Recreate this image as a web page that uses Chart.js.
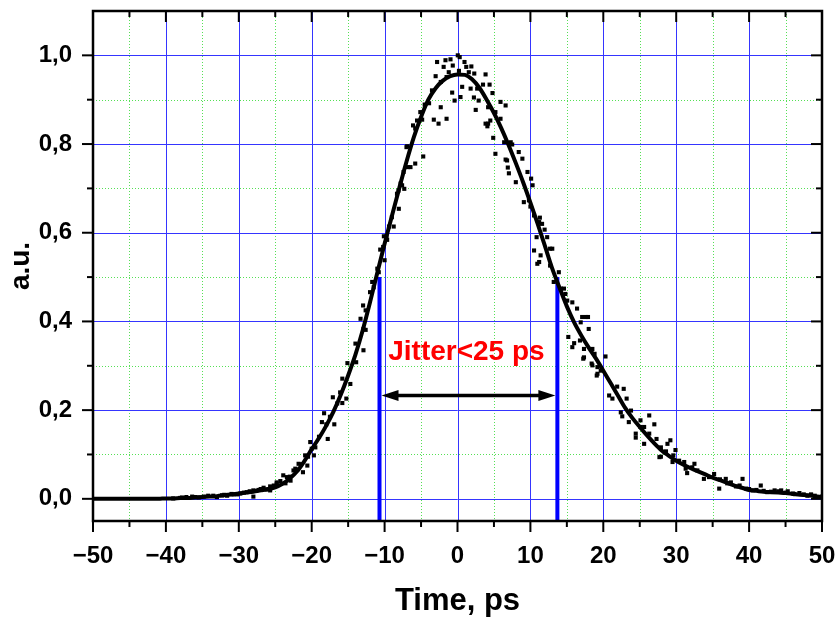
<!DOCTYPE html>
<html><head><meta charset="utf-8">
<script src="https://cdn.jsdelivr.net/npm/chart.js@4.4.1/dist/chart.umd.min.js"></script>
<style>html,body{margin:0;padding:0;background:#fff;}#wrap{width:838px;height:622px;}</style>
</head><body><div id="wrap"><canvas id="c" width="838" height="622"></canvas></div>
<script>
// ---- data ----
const fitX = [-50,-49,-48,-47,-46,-45,-44,-43,-42,-41,-40,-39,-38,-37,-36,-35,-34,-33,-32,-31,-30,-29,-28,-27,-26,-25,-24,-23,-22,-21,-20,-19,-18,-17,-16,-15,-14,-13,-12,-11,-10,-9,-8,-7,-6,-5,-4,-3,-2,-1,0,1,2,3,4,5,6,7,8,9,10,11,12,13,14,15,16,17,18,19,20,21,22,23,24,25,26,27,28,29,30,31,32,33,34,35,36,37,38,39,40,41,42,43,44,45,46,47,48,49,50];
const fitY = [0,0,0,0,0,0,0,0,0,0,
  0.001,0.001,0.002,0.002,0.003,0.004,0.005,0.006,0.008,0.010,
  0.012,0.014,0.016,0.019,0.022,0.026,0.034,0.046,0.062,0.085,
  0.112,0.137,0.165,0.197,0.235,0.278,0.325,0.380,0.443,0.510,
  0.575,0.638,0.700,0.760,0.815,0.861,0.900,0.926,0.943,0.953,
  0.957,0.956,0.946,0.927,0.900,0.870,0.836,0.798,0.757,0.714,
  0.668,0.620,0.570,0.519,0.476,0.434,0.398,0.368,0.341,0.316,
  0.289,0.261,0.233,0.205,0.182,0.162,0.143,0.125,0.109,0.097,
  0.086,0.077,0.069,0.062,0.055,0.048,0.042,0.036,0.030,0.025,
  0.020,0.018,0.016,0.015,0.014,0.013,0.011,0.009,0.008,0.006,0.004];

const dotX = [-39.0,-38.05,-37.8,-37.2,-36.4,-36.0,-35.5,-34.8,-34.2,-33.5,-33.0,-32.3,-32.0,-31.6,-31.0,-30.7,-30.2,-29.8,-29.3,-28.9,-28.5,-28.0,-28.0,-27.6,-27.3,-27.0,-26.6,-26.2,-25.7,-25.7,-25.7,-25.2,-24.8,-24.8,-24.3,-23.9,-23.6,-23.4,-23.0,-22.9,-22.5,-22.25,-22.0,-21.8,-21.5,-21.2,-20.9,-20.6,-20.5,-20.2,-20.0,-19.7,-19.5,-19.0,-18.6,-18.3,-18.0,-17.8,-17.5,-17.1,-16.9,-16.5,-16.1,-15.8,-15.8,-15.25,-15.1,-14.7,-14.0,-13.9,-13.3,-12.95,-12.9,-12.9,-12.6,-12.6,-12.0,-11.7,-11.5,-11.0,-10.8,-10.6,-10.2,-10.1,-10.0,-9.75,-9.65,-9.4,-9.0,-8.75,-8.3,-8.1,-8.05,-7.8,-7.6,-7.4,-7.3,-7.0,-6.9,-6.8,-6.45,-6.1,-5.8,-5.8,-5.55,-5.1,-4.85,-4.7,-4.5,-3.9,-3.5,-3.25,-3.0,-2.8,-2.6,-2.3,-2.3,-1.9,-1.65,-1.5,-1.5,-1.2,-0.96,-0.73,-0.65,-0.4,0.04,0.2,0.3,0.41,0.64,0.96,1.2,1.55,1.8,1.9,2.25,2.3,2.5,2.7,2.9,3.5,3.85,3.85,4.1,4.2,4.2,4.4,4.5,4.8,4.9,5.2,5.2,5.9,5.9,6.4,6.6,6.6,6.8,6.9,7.05,7.3,7.5,8.0,8.4,8.9,9.1,9.6,9.8,10.0,10.1,10.3,10.5,10.5,10.85,10.95,11.2,11.2,11.3,11.4,11.6,11.95,12.3,12.7,12.7,13.0,13.2,13.9,14.2,14.6,14.8,15.05,15.2,15.75,15.75,16.0,16.4,16.8,16.9,17.1,17.25,17.35,17.35,17.6,17.9,18.0,18.4,18.5,18.5,18.8,19.1,19.2,19.2,19.65,20.3,20.8,21.25,21.9,22.4,22.6,22.8,23.2,23.5,23.8,24.45,24.45,25.1,25.1,25.6,25.6,26.3,26.3,27.0,27.3,27.7,27.9,27.9,28.6,28.8,29.2,29.5,29.6,29.9,30.4,31.1,31.3,31.5,32.2,32.5,32.9,33.8,34.5,35.2,35.9,36.0,36.8,37.0,37.5,38.2,38.7,39.1,39.6,40.0,40.5,41.0,41.6,42.0,42.5,43.0,43.5,44.0,44.4,45.0,45.3,46.0,46.2,46.9,47.5,48.0,48.5,49.0,49.4,50.0];
const dotY = [0.001,0.002,0.003,0.004,0.005,0.004,0.003,0.005,0.007,0.007,0.004,0.008,0.009,0.007,0.011,0.010,0.010,0.012,0.014,0.015,0.017,0.005,0.019,0.018,0.020,0.022,0.025,0.021,0.023,0.028,0.019,0.030,0.037,0.034,0.040,0.053,0.035,0.049,0.050,0.041,0.064,0.068,0.066,0.079,0.078,0.060,0.098,0.075,0.095,0.128,0.113,0.098,0.116,0.140,0.173,0.193,0.168,0.135,0.185,0.229,0.168,0.215,0.240,0.271,0.216,0.226,0.306,0.259,0.350,0.308,0.406,0.436,0.335,0.383,0.425,0.381,0.466,0.489,0.477,0.519,0.511,0.562,0.568,0.592,0.538,0.592,0.584,0.614,0.635,0.614,0.688,0.695,0.654,0.711,0.707,0.737,0.699,0.793,0.795,0.748,0.748,0.842,0.835,0.756,0.853,0.872,0.855,0.772,0.889,0.892,0.921,0.855,0.953,0.985,0.846,0.940,0.883,0.974,0.989,0.951,0.857,0.962,0.991,0.916,0.977,0.898,1.000,0.965,0.996,0.906,0.929,0.985,0.974,0.962,0.925,0.975,0.905,0.959,0.877,0.925,0.898,0.934,0.957,0.846,0.840,0.883,0.846,0.934,0.853,0.915,0.814,0.872,0.778,0.895,0.857,0.804,0.887,0.765,0.763,0.747,0.734,0.804,0.799,0.714,0.782,0.767,0.669,0.737,0.673,0.659,0.722,0.707,0.639,0.560,0.590,0.530,0.624,0.534,0.634,0.549,0.620,0.607,0.590,0.564,0.526,0.564,0.489,0.511,0.474,0.474,0.462,0.447,0.365,0.443,0.342,0.351,0.429,0.357,0.398,0.410,0.316,0.338,0.319,0.410,0.410,0.383,0.305,0.338,0.301,0.327,0.278,0.297,0.282,0.289,0.321,0.233,0.226,0.253,0.195,0.186,0.248,0.226,0.173,0.199,0.147,0.138,0.162,0.177,0.162,0.124,0.188,0.147,0.168,0.135,0.094,0.116,0.095,0.107,0.124,0.132,0.083,0.098,0.110,0.086,0.083,0.068,0.058,0.071,0.079,0.064,0.045,0.049,0.056,0.023,0.044,0.045,0.035,0.037,0.028,0.030,0.045,0.023,0.022,0.019,0.020,0.030,0.018,0.015,0.016,0.019,0.017,0.019,0.014,0.017,0.012,0.011,0.013,0.010,0.007,0.010,0.007,0.004,0.005];

const xTicks = [-50,-40,-30,-20,-10,0,10,20,30,40,50];
const xMinor = [-45,-35,-25,-15,-5,5,15,25,35,45];
const yTicks = [0,0.2,0.4,0.6,0.8,1.0];
const yMinor = [0.1,0.3,0.5,0.7,0.9];
const xRange = [-50,50];
const yRange = [-0.05,1.1];
const jitterX = [-10.7,13.7];
const jitterTop = 0.5;
const arrowY = 0.233;
const labelY = 0.331;
const labelText = 'Jitter<25 ps';
const xTitle = 'Time, ps';
const yTitle = 'a.u.';

// ---- chart ----
const FAM = "'Liberation Sans', Arial, sans-serif";
Chart.defaults.font.family = FAM;
const fmtY = v => (v < 0 ? '\u2212' : '') + Math.abs(v).toFixed(1).replace('.', ',');
const fmtX = v => (v < 0 ? '\u2212' : '') + Math.abs(v);

const gridPlugin = {
  id: 'gridFrame',
  beforeDatasetsDraw(chart) {
    const {ctx, chartArea: a, scales: {x, y}} = chart;
    ctx.save();
    ctx.lineWidth = 1;
    ctx.strokeStyle = '#55e055';
    ctx.setLineDash([1, 2]);
    xMinor.forEach(v => { const p = Math.round(x.getPixelForValue(v)) + 0.5; ctx.beginPath(); ctx.moveTo(p, a.top); ctx.lineTo(p, a.bottom); ctx.stroke(); });
    yMinor.forEach(v => { const p = Math.round(y.getPixelForValue(v)) + 0.5; ctx.beginPath(); ctx.moveTo(a.left, p); ctx.lineTo(a.right, p); ctx.stroke(); });
    ctx.setLineDash([]);
    ctx.strokeStyle = '#3535ff';
    xTicks.forEach(v => { if (v <= xRange[0] || v >= xRange[1]) return; const p = Math.round(x.getPixelForValue(v)) + 0.5; ctx.beginPath(); ctx.moveTo(p, a.top); ctx.lineTo(p, a.bottom); ctx.stroke(); });
    yTicks.forEach(v => { const p = Math.round(y.getPixelForValue(v)) + 0.5; ctx.beginPath(); ctx.moveTo(a.left, p); ctx.lineTo(a.right, p); ctx.stroke(); });
    ctx.restore();
  },
  afterDatasetsDraw(chart) {
    const {ctx, chartArea: a, scales: {x, y}} = chart;
    ctx.save();
    // arrow
    const x1 = x.getPixelForValue(jitterX[0]) + 2, x2 = x.getPixelForValue(jitterX[1]) - 2;
    const ay = y.getPixelForValue(arrowY);
    const hl = 17, hw = 5.5;
    ctx.strokeStyle = '#000'; ctx.fillStyle = '#000'; ctx.lineWidth = 3.5;
    ctx.beginPath(); ctx.moveTo(x1 + hl - 2, ay); ctx.lineTo(x2 - hl + 2, ay); ctx.stroke();
    ctx.beginPath(); ctx.moveTo(x1, ay); ctx.lineTo(x1 + hl, ay - hw); ctx.lineTo(x1 + hl, ay + hw); ctx.closePath(); ctx.fill();
    ctx.beginPath(); ctx.moveTo(x2, ay); ctx.lineTo(x2 - hl, ay - hw); ctx.lineTo(x2 - hl, ay + hw); ctx.closePath(); ctx.fill();
    // label
    ctx.font = 'bold 28px ' + FAM;
    ctx.fillStyle = '#ff0000'; ctx.textAlign = 'center'; ctx.textBaseline = 'middle';
    ctx.fillText(labelText, x.getPixelForValue((jitterX[0] + jitterX[1]) / 2) - 2, y.getPixelForValue(labelY));
    // frame
    ctx.strokeStyle = '#000'; ctx.lineWidth = 2.5;
    ctx.strokeRect(a.left, a.top, a.right - a.left, a.bottom - a.top);
    // ticks
    ctx.lineWidth = 2;
    const tick = (x0, y0, x1_, y1_) => { ctx.beginPath(); ctx.moveTo(x0, y0); ctx.lineTo(x1_, y1_); ctx.stroke(); };
    xTicks.forEach(v => { const p = x.getPixelForValue(v); tick(p, a.bottom, p, a.bottom + 11); tick(p, a.top, p, a.top + 11); });
    xMinor.forEach(v => { const p = x.getPixelForValue(v); tick(p, a.bottom, p, a.bottom + 6); tick(p, a.top, p, a.top + 6); });
    yTicks.forEach(v => { const p = y.getPixelForValue(v); tick(a.left, p, a.left - 11, p); tick(a.right, p, a.right - 11, p); });
    yMinor.forEach(v => { const p = y.getPixelForValue(v); tick(a.left, p, a.left - 6, p); tick(a.right, p, a.right - 6, p); });
    ctx.restore();
  }
};

new Chart(document.getElementById('c'), {
  type: 'scatter',
  data: {
    datasets: [
      { type: 'line', data: fitX.map((v, i) => ({x: v, y: fitY[i]})), borderColor: '#000', borderWidth: 4, pointRadius: 0, cubicInterpolationMode: 'monotone', fill: false },
      { type: 'scatter', data: dotX.map((v, i) => ({x: v, y: dotY[i]})), pointStyle: 'rect', pointRadius: 2.9, backgroundColor: '#000', borderWidth: 0 },
      { type: 'line', data: [{x: jitterX[0], y: yRange[0]}, {x: jitterX[0], y: jitterTop}], borderColor: '#0000ff', borderWidth: 4, pointRadius: 0 },
      { type: 'line', data: [{x: jitterX[1], y: yRange[0]}, {x: jitterX[1], y: jitterTop}], borderColor: '#0000ff', borderWidth: 4, pointRadius: 0 }
    ]
  },
  options: {
    responsive: false, animation: false, devicePixelRatio: 1,
    layout: {padding: {top: 11, right: 16, left: 0, bottom: 0}},
    plugins: {legend: {display: false}, tooltip: {enabled: false}},
    scales: {
      x: {
        type: 'linear', min: xRange[0], max: xRange[1],
        afterBuildTicks: s => { s.ticks = xTicks.map(v => ({value: v})); },
        afterFit: s => { s.height = 101; s.paddingLeft = 0; s.paddingRight = 0; },
        grid: {display: false, drawTicks: false}, border: {display: false},
        ticks: {autoSkip: false, maxRotation: 0, padding: 21, color: '#000', font: {size: 24, weight: 'bold'}, callback: v => fmtX(v)},
        title: {display: true, text: xTitle, color: '#000', font: {size: 31, weight: 'bold'}, padding: {top: 0, bottom: 2}}
      },
      y: {
        type: 'linear', min: yRange[0], max: yRange[1],
        afterBuildTicks: s => { s.ticks = yTicks.map(v => ({value: v})); },
        afterFit: s => { s.width = 93; s.paddingTop = 0; s.paddingBottom = 0; },
        grid: {display: false, drawTicks: false}, border: {display: false},
        ticks: {autoSkip: false, padding: 21, color: '#000', font: {size: 24, weight: 'bold'}, callback: v => fmtY(v)},
        title: {display: true, text: yTitle, color: '#000', font: {size: 28, weight: 'bold'}, padding: {top: 4, bottom: 0}}
      }
    }
  },
  plugins: [gridPlugin]
});
</script></body></html>
